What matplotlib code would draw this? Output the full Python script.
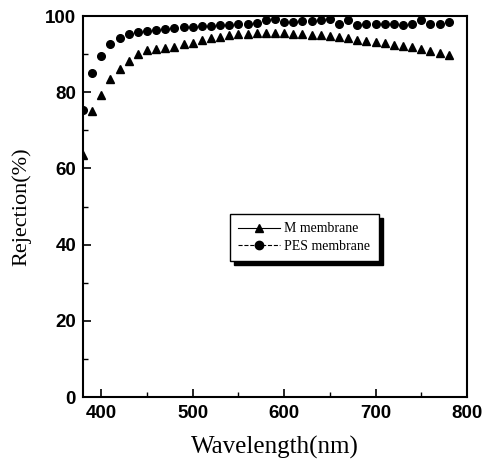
import matplotlib.pyplot as plt
from matplotlib.lines import Line2D

# wavelength (nm), one point every 10 nm
wavelength = list(range(380, 790, 10))

m_membrane = [63.5, 75.1, 79.2, 83.6, 86.0, 88.2, 89.9, 91.0, 91.3, 91.5,
              91.9, 92.6, 93.0, 93.7, 94.3, 94.6, 94.9, 95.2, 95.4, 95.5,
              95.6, 95.6, 95.5, 95.4, 95.3, 95.1, 95.0, 94.8, 94.5, 94.1,
              93.8, 93.5, 93.1, 92.8, 92.5, 92.1, 91.8, 91.4, 90.8, 90.4,
              89.8]

pes_membrane = [75.3, 85.1, 89.5, 92.6, 94.2, 95.2, 95.8, 96.1, 96.3, 96.7,
                96.9, 97.0, 97.2, 97.3, 97.4, 97.6, 97.6, 97.8, 97.9, 98.2,
                98.9, 99.2, 98.4, 98.4, 98.6, 98.6, 98.9, 99.2, 97.9, 98.9,
                97.6, 97.8, 97.8, 97.9, 97.9, 97.6, 97.8, 98.9, 97.8, 97.9,
                98.4]

fig = plt.figure(figsize=(4.84, 4.71), dpi=100)
ax = fig.add_axes([0.1715, 0.157, 0.7935, 0.809])

ax.plot(wavelength, m_membrane, linestyle='none', marker='^', ms=6,
        color='black')
ax.plot(wavelength, pes_membrane, linestyle='none', marker='o', ms=5.5,
        color='black')

ax.set_xlim(380, 800)
ax.set_ylim(0, 100)
ax.set_xticks([400, 500, 600, 700, 800])
ax.set_xticks([450, 550, 650, 750], minor=True)
ax.set_yticks([0, 20, 40, 60, 80, 100])
ax.set_yticks([10, 30, 50, 70, 90], minor=True)
ax.tick_params(which='both', direction='in', top=False, right=False)
ax.tick_params(which='major', length=6, width=1.2)
ax.tick_params(which='minor', length=3.5, width=1)
ax.tick_params(axis='x', pad=6)
ax.tick_params(axis='y', pad=5)

for lab in ax.get_xticklabels() + ax.get_yticklabels():
    lab.set_fontfamily('Liberation Sans')
    lab.set_fontweight('bold')
    lab.set_fontsize(13.5)

for sp in ax.spines.values():
    sp.set_linewidth(1.5)

ax.set_xlabel('Wavelength(nm)', family='Liberation Serif', fontsize=18, labelpad=10)
ax.set_ylabel('Rejection(%)', family='Liberation Serif', fontsize=16, labelpad=10)

handles = [
    Line2D([], [], color='black', lw=0.8, marker='^', ms=6),
    Line2D([], [], color='black', lw=0.8, ls='--', marker='o', ms=6),
]
leg = ax.legend(handles, ['M membrane', 'PES membrane'], loc='lower left',
                bbox_to_anchor=(0.365, 0.339), numpoints=1, handlelength=3,
                prop={'family': 'Liberation Serif', 'size': 10},
                fancybox=False, edgecolor='black', framealpha=1,
                shadow={'color': 'black', 'ox': 3, 'oy': -3, 'alpha': 1},
                borderpad=0.6, labelspacing=0.3, handletextpad=0.3)
leg.get_frame().set_linewidth(1)

fig.savefig('out.png', dpi=100)
